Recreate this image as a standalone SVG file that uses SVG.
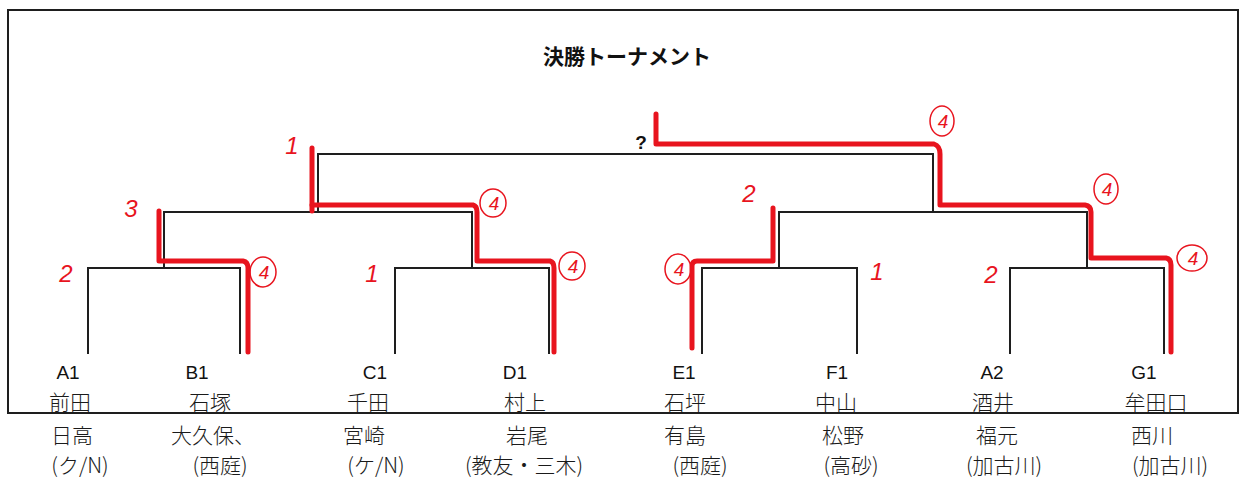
<svg xmlns="http://www.w3.org/2000/svg" width="1242" height="495" viewBox="0 0 1242 495">
<defs>
<style>
.frame{fill:#fff;stroke:#1e1e1e;stroke-width:2}
.br{fill:none;stroke:#1e1e1e;stroke-width:2}
.red{fill:none;stroke:#e8141e;stroke-width:5;stroke-linejoin:round;stroke-linecap:round}
.title{font-family:"Noto Sans CJK JP","Noto Sans",sans-serif;font-size:21px;font-weight:bold;fill:#111;text-anchor:middle}
.lbl{font-family:"Liberation Sans",Arial,sans-serif;font-size:19px;fill:#111;text-anchor:middle}
.hw{font-family:"Noto Sans CJK JP",sans-serif;font-size:21px;font-weight:300;fill:#1a1a1a;text-anchor:middle}
.rn{font-family:"Liberation Sans",Arial,sans-serif;font-size:24px;font-style:italic;fill:#e8141e;text-anchor:middle}
.rc{fill:none;stroke:#e8141e;stroke-width:1.5}
.rc4{font-family:"Liberation Sans",Arial,sans-serif;font-size:19px;font-style:italic;fill:#e8141e;text-anchor:middle}
</style>
</defs>
<rect width="1242" height="495" fill="#fff"/>
<rect class="frame" x="8" y="10" width="1230" height="403"/>
<text class="title" x="627" y="64">決勝トーナメント</text>
<text class="lbl" x="641" y="149" font-weight="bold">?</text>

<g id="connectors">
<path class="br" d="M88,354 V268 H240 V354"/>
<path class="br" d="M395,354 V268 H549 V354"/>
<path class="br" d="M702,354 V268 H857 V354"/>
<path class="br" d="M1010,354 V268 H1164 V354"/>
<path class="br" d="M164,268 V212 H472 V268"/>
<path class="br" d="M779,268 V212 H1087 V268"/>
<path class="br" d="M318,212 V154 H933 V212"/>
</g>

<g id="red-paths">
<path class="red" d="M159,211 V261 H243 Q248,262 248,268 V352"/>
<path class="red" d="M312,148 V211"/>
<path class="red" d="M312,205 H473 Q477,206 477,212 V261 H550 Q554,262 554,268 V352"/>
<path class="red" d="M656,114 V144 H934 Q940,146 940,154 V205 H1085 Q1091,206 1091,212 V258 H1166 Q1171,259 1171,265 V352"/>
<path class="red" d="M692,348 V266 Q692,261 697,261 H773 V208"/>
</g>

<g id="red-notes">
<text class="rn" x="292" y="154">1</text>
<text class="rn" x="131" y="217">3</text>
<text class="rn" x="66" y="282">2</text>
<text class="rn" x="372" y="282">1</text>
<text class="rn" x="749" y="202">2</text>
<text class="rn" x="877" y="280">1</text>
<text class="rn" x="991" y="283">2</text>
<g><ellipse class="rc" cx="263" cy="272" rx="13" ry="15"/><text class="rc4" x="264" y="279">4</text></g>
<g><ellipse class="rc" cx="493" cy="203" rx="13" ry="14"/><text class="rc4" x="494" y="210">4</text></g>
<g><ellipse class="rc" cx="572" cy="266" rx="13" ry="14"/><text class="rc4" x="573" y="273">4</text></g>
<g><ellipse class="rc" cx="942" cy="121" rx="12" ry="15"/><text class="rc4" x="943" y="128">4</text></g>
<g><ellipse class="rc" cx="1106" cy="189" rx="12" ry="15"/><text class="rc4" x="1107" y="196">4</text></g>
<g><ellipse class="rc" cx="1192" cy="258" rx="15" ry="13"/><text class="rc4" x="1193" y="265">4</text></g>
<g><ellipse class="rc" cx="678" cy="269" rx="13" ry="15"/><text class="rc4" x="679" y="276">4</text></g>
</g>

<g id="A1"><text class="lbl" x="68" y="379">A1</text><text class="hw" x="70" y="410">前田</text><text class="hw" x="72" y="443">日高</text><text class="hw" x="80" y="473">(ク/N)</text></g>
<g id="B1"><text class="lbl" x="197" y="379">B1</text><text class="hw" x="210" y="410">石塚</text><text class="hw" x="213" y="443">大久保、</text><text class="hw" x="220" y="473">(西庭)</text></g>
<g id="C1"><text class="lbl" x="375" y="379">C1</text><text class="hw" x="368" y="410">千田</text><text class="hw" x="364" y="443">宮崎</text><text class="hw" x="376" y="473">(ケ/N)</text></g>
<g id="D1"><text class="lbl" x="515" y="379">D1</text><text class="hw" x="525" y="410">村上</text><text class="hw" x="527" y="443">岩尾</text><text class="hw" x="524" y="473">(教友・三木)</text></g>
<g id="E1"><text class="lbl" x="684" y="379">E1</text><text class="hw" x="685" y="410">石坪</text><text class="hw" x="685" y="443">有島</text><text class="hw" x="700" y="473">(西庭)</text></g>
<g id="F1"><text class="lbl" x="837" y="379">F1</text><text class="hw" x="836" y="410">中山</text><text class="hw" x="843" y="443">松野</text><text class="hw" x="851" y="473">(高砂)</text></g>
<g id="A2"><text class="lbl" x="992" y="379">A2</text><text class="hw" x="993" y="410">酒井</text><text class="hw" x="997" y="443">福元</text><text class="hw" x="1004" y="473">(加古川)</text></g>
<g id="G1"><text class="lbl" x="1144" y="379">G1</text><text class="hw" x="1156" y="410">牟田口</text><text class="hw" x="1152" y="443">西川</text><text class="hw" x="1170" y="473">(加古川)</text></g>
</svg>
